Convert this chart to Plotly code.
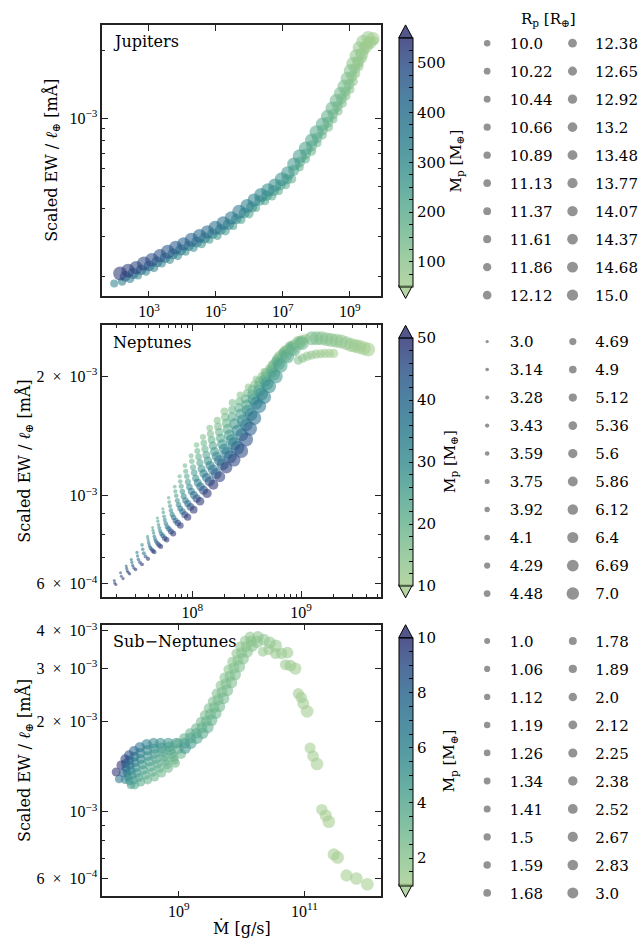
import plotly.graph_objects as go

W, H = 643, 944
SERIF = "DejaVu Serif"
TICKFONT = "Liberation Serif"

# ---------------- legend radii (R_p levels) ----------------
jup_rp_levels = [10.0, 10.22, 10.44, 10.66, 10.89, 11.13, 11.37, 11.61, 11.86, 12.12,
                 12.38, 12.65, 12.92, 13.2, 13.48, 13.77, 14.07, 14.37, 14.68, 15.0]
nep_rp_levels = [3.0, 3.14, 3.28, 3.43, 3.59, 3.75, 3.92, 4.1, 4.29, 4.48,
                 4.69, 4.9, 5.12, 5.36, 5.6, 5.86, 6.12, 6.4, 6.69, 7.0]
sub_rp_levels = [1.0, 1.06, 1.12, 1.19, 1.26, 1.34, 1.41, 1.5, 1.59, 1.68,
                 1.78, 1.89, 2.0, 2.12, 2.25, 2.38, 2.52, 2.67, 2.83, 3.0]

# ---------------- Jupiters: groups (lower, middle, upper band, top blob) ----------------
jup_log_mdot = [
    [1.963, 2.200, 2.437, 2.674, 2.911, 3.148, 3.385, 3.622, 3.859, 4.096, 4.333,
     4.570, 4.807, 5.044, 5.281, 5.518, 5.755, 5.992, 6.200, 6.467, 6.675,
     6.882, 7.089, 7.267, 7.504, 7.682, 7.859, 8.037, 8.185, 8.363, 8.511,
     8.659, 8.778, 8.897, 9.015, 9.104, 9.193, 9.282, 9.371, 9.459, 9.578, 9.726],
    [2.290, 2.527, 2.764, 3.001, 3.238, 3.475, 3.712, 3.949, 4.186, 4.423,
     4.660, 4.897, 5.134, 5.371, 5.608, 5.845, 6.067, 6.304, 6.511, 6.719,
     6.926, 7.118, 7.326, 7.504, 7.682, 7.859, 8.022, 8.185, 8.348, 8.496,
     8.630, 8.749, 8.867, 8.971, 9.060, 9.149, 9.238, 9.326, 9.430, 9.563],
    [2.141, 2.378, 2.615, 2.852, 3.089, 3.326, 3.563, 3.800, 4.037, 4.274,
     4.511, 4.748, 4.985, 5.222, 5.459, 5.696, 5.933, 6.141, 6.348, 6.556,
     6.763, 6.970, 7.148, 7.326, 7.504, 7.681, 7.859, 8.007, 8.185, 8.333,
     8.481, 8.600, 8.719, 8.837, 8.926, 9.015, 9.104, 9.193, 9.281, 9.400, 9.548],
    [9.252, 9.370, 9.489, 9.607, 9.696],
]
jup_log_ew = [
    [-3.728, -3.719, -3.706, -3.693, -3.675, -3.658, -3.640, -3.623, -3.605, -3.588, -3.570,
     -3.553, -3.535, -3.517, -3.496, -3.474, -3.447, -3.421, -3.395, -3.364, -3.342,
     -3.320, -3.294, -3.267, -3.215, -3.180, -3.145, -3.109, -3.074, -3.039, -3.004,
     -2.969, -2.934, -2.903, -2.873, -2.838, -2.803, -2.772, -2.737, -2.702, -2.675, -2.658],
    [-3.696, -3.683, -3.667, -3.650, -3.632, -3.615, -3.597, -3.580, -3.562, -3.545,
     -3.527, -3.509, -3.490, -3.468, -3.444, -3.417, -3.391, -3.362, -3.340, -3.318,
     -3.294, -3.268, -3.229, -3.192, -3.157, -3.121, -3.086, -3.051, -3.016, -2.981,
     -2.946, -2.913, -2.882, -2.850, -2.815, -2.782, -2.749, -2.714, -2.683, -2.661],
    [-3.684, -3.671, -3.658, -3.640, -3.623, -3.605, -3.588, -3.570, -3.553, -3.535,
     -3.518, -3.500, -3.482, -3.461, -3.439, -3.412, -3.386, -3.360, -3.338, -3.316,
     -3.294, -3.268, -3.241, -3.202, -3.167, -3.132, -3.096, -3.061, -3.026, -2.991,
     -2.956, -2.921, -2.890, -2.860, -2.825, -2.790, -2.759, -2.724, -2.689, -2.662, -2.645],
    [-2.754, -2.719, -2.684, -2.667, -2.649],
]
jup_mass = [
    [330, 345, 340, 330, 325, 318, 312, 305, 298, 290, 284,
     275, 268, 260, 254, 245, 236, 227, 218, 210, 203,
     195, 188, 181, 173, 165, 158, 151, 143, 136, 129,
     122, 115, 108, 101, 95, 88, 82, 76, 70, 64, 58],
    [430, 420, 410, 400, 392, 382, 372, 364, 354, 345,
     336, 326, 316, 306, 296, 285, 274, 262, 252, 242,
     232, 222, 212, 202, 192, 182, 172, 162, 153, 144,
     134, 125, 116, 107, 99, 91, 84, 77, 70, 63],
    [540, 530, 515, 505, 495, 485, 470, 460, 450, 440,
     425, 415, 400, 390, 375, 360, 345, 330, 318, 305,
     292, 280, 268, 255, 242, 230, 218, 205, 194, 182,
     170, 158, 146, 135, 124, 113, 103, 94, 85, 76, 68],
    [80, 72, 64, 58, 54],
]
jup_rp = [
    [10.0, 10.44, 10.89, 10.0, 10.44, 10.89, 10.0, 10.44, 10.89, 10.0, 10.44,
     10.89, 10.0, 10.44, 10.89, 10.0, 10.44, 10.89, 10.0, 10.44, 10.89,
     10.0, 10.44, 10.89, 10.0, 10.44, 10.89, 10.0, 10.44, 10.89, 10.0,
     10.44, 10.89, 10.0, 10.44, 10.89, 10.0, 10.44, 10.89, 10.0, 10.44, 10.89],
    [12.38, 12.65, 12.12, 12.38, 12.65, 12.12, 12.38, 12.65, 12.12, 12.38,
     12.65, 12.12, 12.38, 12.65, 12.12, 12.38, 12.65, 12.12, 12.38, 12.65,
     12.12, 12.38, 12.65, 12.12, 12.38, 12.65, 12.12, 12.38, 12.65, 12.12,
     12.38, 12.65, 12.12, 12.38, 12.65, 12.12, 12.38, 12.65, 12.12, 12.38],
    [15.0, 14.68, 14.37, 15.0, 14.68, 14.37, 15.0, 14.68, 14.37, 15.0,
     14.68, 14.37, 15.0, 14.68, 14.37, 15.0, 14.68, 14.37, 15.0, 14.68,
     14.37, 15.0, 14.68, 14.37, 15.0, 14.68, 14.37, 15.0, 14.68, 14.37,
     15.0, 14.68, 14.37, 15.0, 14.68, 14.37, 15.0, 14.68, 14.37, 15.0, 14.68],
    [13.2, 13.48, 13.77, 14.07, 14.37],
]

# ---------------- Neptunes: arcs listed head -> tail ----------------
nep_log_mdot = [
    [7.298, 7.287, 7.283],
    [7.364, 7.348, 7.341],
    [7.424, 7.411, 7.402, 7.397, 7.393],
    [7.479, 7.463, 7.452, 7.445, 7.440],
    [7.538, 7.519, 7.505, 7.497, 7.492],
    [7.593, 7.571, 7.555, 7.545, 7.539],
    [7.651, 7.637, 7.626, 7.615, 7.607, 7.601, 7.597, 7.592, 7.589],
    [7.710, 7.694, 7.680, 7.667, 7.658, 7.651, 7.645, 7.639, 7.636],
    [7.765, 7.746, 7.730, 7.716, 7.705, 7.697, 7.690, 7.684, 7.680],
    [7.825, 7.804, 7.786, 7.770, 7.757, 7.748, 7.741, 7.734, 7.730],
    [7.891, 7.867, 7.847, 7.829, 7.815, 7.804, 7.796, 7.788, 7.783],
    [7.958, 7.932, 7.910, 7.890, 7.874, 7.863, 7.853, 7.845, 7.839],
    [8.013, 7.984, 7.960, 7.938, 7.921, 7.909, 7.899, 7.890, 7.884],
    [8.072, 8.041, 8.015, 7.992, 7.974, 7.960, 7.950, 7.940, 7.933],
    [8.136, 8.104, 8.076, 8.051, 8.032, 8.018, 8.007, 7.996, 7.990],
    [8.194, 8.160, 8.131, 8.105, 8.085, 8.070, 8.058, 8.047, 8.040],
    [8.253, 8.219, 8.190, 8.164, 8.144, 8.129, 8.117, 8.106, 8.099],
    [8.314, 8.280, 8.251, 8.225, 8.205, 8.190, 8.178, 8.167, 8.160],
    [8.384, 8.350, 8.321, 8.295, 8.275, 8.260, 8.248, 8.237, 8.230],
    [8.450, 8.416, 8.387, 8.361, 8.341, 8.326, 8.314, 8.303, 8.296],
    [8.495, 8.456, 8.418, 8.392, 8.367, 8.367, 8.368],
    [8.531, 8.497, 8.463, 8.445, 8.427, 8.433, 8.440],
    [8.570, 8.540, 8.511, 8.500, 8.489, 8.502, 8.516],
    [8.615, 8.589, 8.563, 8.557, 8.552, 8.570, 8.588],
    [8.661, 8.638, 8.616, 8.616, 8.616, 8.638, 8.661],
    [8.706, 8.687, 8.668, 8.673, 8.678, 8.705, 8.733],
    [8.767, 8.748, 8.729, 8.734, 8.739, 8.766, 8.794],
    [8.812, 8.795, 8.778, 8.787, 8.796, 8.826, 8.857],
    [8.872, 8.855, 8.838, 8.847, 8.856, 8.886, 8.917],
    [8.932, 8.916, 8.900, 8.911, 8.922, 8.954, 8.986],
    [9.008, 8.990, 8.972, 9.008, 9.044],
    [9.099, 9.144, 9.189, 9.235, 9.280, 9.325, 9.370, 9.415, 9.461, 9.498, 9.536, 9.577, 9.617],
    [8.975, 9.015, 9.056, 9.096, 9.137, 9.178, 9.219, 9.260, 9.300],
]
nep_log_ew = [
    [-3.224, -3.220, -3.214],
    [-3.209, -3.203, -3.194],
    [-3.197, -3.193, -3.189, -3.183, -3.177],
    [-3.186, -3.182, -3.176, -3.168, -3.161],
    [-3.173, -3.168, -3.161, -3.152, -3.143],
    [-3.159, -3.153, -3.145, -3.135, -3.124],
    [-3.142, -3.139, -3.135, -3.131, -3.126, -3.120, -3.114, -3.108, -3.102],
    [-3.128, -3.124, -3.120, -3.115, -3.109, -3.102, -3.094, -3.087, -3.080],
    [-3.111, -3.107, -3.101, -3.096, -3.089, -3.081, -3.073, -3.064, -3.056],
    [-3.095, -3.090, -3.084, -3.078, -3.070, -3.061, -3.052, -3.042, -3.033],
    [-3.075, -3.069, -3.063, -3.055, -3.047, -3.037, -3.026, -3.016, -3.005],
    [-3.054, -3.048, -3.040, -3.032, -3.023, -3.012, -3.000, -2.989, -2.977],
    [-3.035, -3.028, -3.020, -3.012, -3.001, -2.989, -2.976, -2.964, -2.951],
    [-3.014, -3.007, -2.998, -2.989, -2.978, -2.965, -2.951, -2.938, -2.924],
    [-2.994, -2.986, -2.977, -2.967, -2.956, -2.942, -2.928, -2.913, -2.899],
    [-2.972, -2.964, -2.954, -2.944, -2.932, -2.917, -2.902, -2.887, -2.872],
    [-2.952, -2.944, -2.934, -2.924, -2.912, -2.897, -2.882, -2.867, -2.852],
    [-2.929, -2.921, -2.911, -2.901, -2.889, -2.874, -2.859, -2.844, -2.829],
    [-2.910, -2.902, -2.892, -2.882, -2.870, -2.855, -2.840, -2.825, -2.810],
    [-2.887, -2.879, -2.869, -2.859, -2.847, -2.832, -2.817, -2.802, -2.787],
    [-2.858, -2.846, -2.835, -2.818, -2.801, -2.783, -2.765],
    [-2.831, -2.821, -2.810, -2.794, -2.778, -2.762, -2.746],
    [-2.804, -2.795, -2.785, -2.771, -2.756, -2.741, -2.726],
    [-2.774, -2.766, -2.757, -2.745, -2.732, -2.719, -2.706],
    [-2.751, -2.743, -2.735, -2.723, -2.711, -2.698, -2.686],
    [-2.724, -2.717, -2.710, -2.700, -2.690, -2.679, -2.669],
    [-2.699, -2.693, -2.687, -2.678, -2.669, -2.660, -2.651],
    [-2.672, -2.667, -2.662, -2.655, -2.647, -2.640, -2.632],
    [-2.649, -2.646, -2.642, -2.637, -2.632, -2.627, -2.621],
    [-2.631, -2.629, -2.626, -2.623, -2.619, -2.615, -2.611],
    [-2.615, -2.614, -2.612, -2.608, -2.603],
    [-2.603, -2.603, -2.603, -2.605, -2.607, -2.609, -2.611, -2.615, -2.620, -2.622, -2.624, -2.628, -2.631],
    [-2.658, -2.653, -2.648, -2.645, -2.643, -2.642, -2.641, -2.641, -2.641],
]
nep_mass = [
    [50, 47, 45],
    [50, 47, 44],
    [50, 47, 44, 42, 40],
    [50, 46, 42, 39, 36],
    [50, 45, 40, 36, 33],
    [50, 44, 38, 34, 30],
    [50, 46.1, 42.5, 39.1, 36.1, 33.2, 30.6, 28.2, 26],
    [50, 45.9, 42.0, 38.6, 35.4, 32.4, 29.7, 27.3, 25],
    [50, 45.4, 41.2, 37.4, 33.9, 30.8, 27.9, 25.3, 23],
    [50, 45.1, 40.7, 36.8, 33.2, 29.9, 27.0, 24.4, 22],
    [50, 44.9, 40.3, 36.1, 32.4, 29.1, 26.1, 23.4, 21],
    [50, 44.6, 39.8, 35.5, 31.6, 28.2, 25.1, 22.4, 20],
    [50, 44.3, 39.3, 34.8, 30.8, 27.3, 24.2, 21.4, 19],
    [50, 44.0, 38.7, 34.1, 30.0, 26.4, 23.2, 20.4, 18],
    [50, 43.7, 38.2, 33.4, 29.2, 25.5, 22.2, 19.4, 17],
    [50, 43.4, 37.6, 32.6, 28.3, 24.5, 21.3, 18.5, 16],
    [48, 41.8, 36.5, 31.8, 27.7, 24.2, 21.1, 18.4, 16],
    [48, 41.5, 35.9, 31.0, 26.8, 23.2, 20.1, 17.3, 15],
    [47, 40.7, 35.3, 30.6, 26.6, 23.0, 20.0, 17.3, 15],
    [46, 39.6, 34.2, 29.5, 25.4, 21.9, 18.9, 16.3, 14],
    [45, 38, 32, 27, 22, 19, 16],
    [42, 36, 30, 25, 21, 18, 15],
    [39, 33, 28, 24, 20, 17, 14],
    [36, 31, 26, 22, 18, 15, 13],
    [33, 28, 24, 20, 17, 14, 12],
    [30, 26, 22, 19, 16, 14, 12],
    [27, 23, 20, 17, 15, 13, 11],
    [25, 22, 19, 16, 14, 12, 11],
    [23, 20, 17, 15, 13, 11, 10],
    [21, 18, 16, 14, 12, 11, 10],
    [19, 16, 14, 12, 10],
    [17, 16.2, 15.5, 14.7, 14, 13.5, 13, 12.5, 12, 11.5, 11, 10.5, 10],
    [15, 14, 13, 12.5, 12, 11.5, 11, 10.5, 10],
]
nep_rp = [
    [3.0, 3.0, 3.0],
    [3.14, 3.0, 3.0],
    [3.28, 3.14, 3.14, 3.0, 3.0],
    [3.43, 3.28, 3.28, 3.14, 3.14],
    [3.59, 3.43, 3.43, 3.28, 3.28],
    [3.75, 3.59, 3.59, 3.43, 3.43],
    [3.92, 3.92, 3.75, 3.59, 3.43, 3.28, 3.14, 3.0, 3.0],
    [4.1, 4.1, 3.92, 3.75, 3.59, 3.43, 3.28, 3.14, 3.0],
    [4.29, 4.29, 4.1, 3.92, 3.75, 3.59, 3.43, 3.28, 3.14],
    [4.48, 4.48, 4.29, 4.1, 3.92, 3.75, 3.59, 3.43, 3.28],
    [4.69, 4.69, 4.48, 4.29, 4.1, 3.92, 3.75, 3.59, 3.43],
    [4.9, 4.9, 4.69, 4.48, 4.29, 4.1, 3.92, 3.75, 3.59],
    [5.12, 5.12, 4.9, 4.69, 4.48, 4.29, 4.1, 3.92, 3.75],
    [5.36, 5.36, 5.12, 4.9, 4.69, 4.48, 4.29, 4.1, 3.92],
    [5.6, 5.6, 5.36, 5.12, 4.9, 4.69, 4.48, 4.29, 4.1],
    [5.86, 5.86, 5.6, 5.36, 5.12, 4.9, 4.69, 4.48, 4.29],
    [6.12, 6.12, 5.86, 5.6, 5.36, 5.12, 4.9, 4.69, 4.48],
    [6.4, 6.4, 6.12, 5.86, 5.6, 5.36, 5.12, 4.9, 4.69],
    [6.69, 6.69, 6.4, 6.12, 5.86, 5.6, 5.36, 5.12, 4.9],
    [7.0, 7.0, 6.69, 6.4, 6.12, 5.86, 5.6, 5.36, 5.12],
    [7.0, 6.69, 6.4, 6.12, 5.6, 5.12, 4.9],
    [7.0, 6.69, 6.4, 6.12, 5.6, 5.12, 4.9],
    [7.0, 6.69, 6.4, 6.12, 5.6, 5.12, 4.9],
    [7.0, 6.69, 6.4, 6.12, 5.6, 5.12, 4.9],
    [7.0, 6.69, 6.4, 6.12, 5.6, 5.12, 4.9],
    [7.0, 6.69, 6.4, 6.12, 5.6, 5.12, 4.9],
    [7.0, 6.69, 6.4, 6.12, 5.6, 5.12, 4.9],
    [7.0, 6.69, 6.4, 6.12, 5.6, 5.12, 4.9],
    [7.0, 6.69, 6.4, 6.12, 5.6, 5.12, 4.9],
    [7.0, 6.69, 6.4, 6.12, 5.6, 5.12, 4.9],
    [7.0, 6.69, 6.4, 6.12, 5.6],
    [7.0, 7.0, 7.0, 7.0, 7.0, 7.0, 7.0, 7.0, 7.0, 7.0, 7.0, 7.0, 7.0],
    [5.6, 5.6, 5.6, 5.6, 5.6, 5.6, 5.6, 5.6, 5.6],
]

# ---------------- Sub-Neptunes: groups in drawing order ----------------
sub_log_mdot = [
    [8.049, 8.002],
    [8.143, 8.111, 8.080],
    [8.237, 8.214, 8.190, 8.174, 8.158, 8.151, 8.143],
    [8.299, 8.276, 8.252, 8.237, 8.221, 8.213, 8.205],
    [8.393, 8.362, 8.331, 8.315, 8.299, 8.292, 8.284],
    [8.503, 8.472, 8.440, 8.417, 8.393, 8.386, 8.378],
    [8.613, 8.582, 8.550, 8.527, 8.503, 8.495, 8.487],
    [8.723, 8.692, 8.660, 8.637, 8.613, 8.605, 8.597],
    [8.832, 8.809, 8.785, 8.762, 8.738, 8.723, 8.707],
    [8.942, 8.927, 8.911, 8.888, 8.864, 8.848, 8.832],
    [9.036, 8.989, 8.958],
    [8.989, 9.083, 9.177, 9.271, 9.350, 9.412, 9.475, 9.538, 9.600, 9.663, 9.726, 9.788,
     9.851, 9.914, 9.976, 10.055, 10.133],
    [9.091, 9.185, 9.279, 9.365, 9.436, 9.499, 9.561, 9.624, 9.687, 9.749, 9.812, 9.875,
     9.938, 10.000, 10.071, 10.149],
    [9.099, 9.193, 9.287, 9.381, 9.459, 9.522, 9.585, 9.647, 9.710, 9.773, 9.835, 9.898,
     9.961, 10.024, 10.086, 10.165, 10.243],
    [10.259, 10.353, 10.447, 10.541, 10.337, 10.431, 10.541, 10.635, 10.729, 10.697, 10.776,
     10.854, 10.901, 10.948, 10.980, 11.042, 11.089, 11.136, 11.199, 11.277, 11.340, 11.387,
     11.466, 11.528, 11.669, 11.826, 12.000],
]
sub_log_ew = [
    [-2.891, -2.868],
    [-2.894, -2.871, -2.845],
    [-2.911, -2.898, -2.884, -2.870, -2.855, -2.840, -2.825],
    [-2.911, -2.895, -2.878, -2.862, -2.845, -2.829, -2.812],
    [-2.901, -2.886, -2.871, -2.853, -2.835, -2.817, -2.798],
    [-2.894, -2.878, -2.861, -2.843, -2.825, -2.805, -2.785],
    [-2.884, -2.868, -2.851, -2.833, -2.815, -2.795, -2.775],
    [-2.871, -2.856, -2.841, -2.825, -2.808, -2.790, -2.772],
    [-2.855, -2.843, -2.831, -2.817, -2.802, -2.787, -2.772],
    [-2.838, -2.828, -2.818, -2.807, -2.795, -2.784, -2.772],
    [-2.808, -2.792, -2.772],
    [-2.772, -2.755, -2.739, -2.722, -2.702, -2.679, -2.656, -2.633, -2.607, -2.580, -2.554, -2.527,
     -2.501, -2.474, -2.451, -2.431, -2.418],
    [-2.772, -2.755, -2.739, -2.721, -2.699, -2.676, -2.653, -2.628, -2.602, -2.575, -2.549, -2.522,
     -2.496, -2.471, -2.450, -2.433],
    [-2.788, -2.772, -2.755, -2.739, -2.719, -2.696, -2.673, -2.650, -2.623, -2.597, -2.570, -2.544,
     -2.517, -2.491, -2.468, -2.448, -2.435],
    [-2.418, -2.428, -2.438, -2.448, -2.468, -2.461, -2.474, -2.474, -2.471, -2.511, -2.514,
     -2.524, -2.607, -2.620, -2.640, -2.666, -2.788, -2.815, -2.841, -2.993, -3.013, -3.033,
     -3.142, -3.152, -3.212, -3.222, -3.241],
]
sub_mass = [
    [7, 10],
    [6, 8, 10],
    [4.5, 5.0, 5.5, 6.5, 7.5, 8.5, 9.5],
    [4.0, 4.6, 5.2, 6.1, 7.0, 8.0, 9.0],
    [3.7, 4.2, 4.8, 5.5, 6.3, 7.1, 8.0],
    [3.4, 3.8, 4.3, 4.9, 5.6, 6.3, 7.0],
    [3.1, 3.5, 3.9, 4.4, 5.0, 5.6, 6.3],
    [2.9, 3.2, 3.6, 4.1, 4.6, 5.1, 5.7],
    [2.8, 3.1, 3.4, 3.8, 4.2, 4.7, 5.2],
    [2.7, 2.9, 3.2, 3.5, 3.9, 4.3, 4.8],
    [3.0, 3.6, 4.4],
    [3.8, 3.5, 3.2, 3.0, 2.8, 2.6, 2.5, 2.4, 2.3, 2.2, 2.1, 2.0, 1.95, 1.9, 1.85, 1.8, 1.75],
    [4.3, 3.9, 3.6, 3.3, 3.1, 2.9, 2.8, 2.6, 2.5, 2.4, 2.3, 2.2, 2.1, 2.0, 1.95, 1.9],
    [5.0, 4.5, 4.1, 3.8, 3.5, 3.3, 3.1, 2.9, 2.8, 2.7, 2.6, 2.5, 2.4, 2.3, 2.2, 2.1, 2.0],
    [1.9, 1.8, 1.7, 1.6, 1.6, 1.55, 1.5, 1.45, 1.4, 1.4, 1.35,
     1.3, 1.25, 1.22, 1.2, 1.18, 1.12, 1.1, 1.08, 1.06, 1.05, 1.04,
     1.03, 1.02, 1.01, 1.0, 1.0],
]
sub_rp = [
    [1.41, 1.59],
    [1.34, 1.5, 1.68],
    [1.41, 1.41, 1.5, 1.5, 1.59, 1.68, 1.78],
    [1.5, 1.5, 1.59, 1.59, 1.68, 1.78, 1.89],
    [1.59, 1.59, 1.68, 1.68, 1.78, 1.89, 2.0],
    [1.59, 1.59, 1.68, 1.78, 1.89, 2.0, 2.12],
    [1.68, 1.68, 1.78, 1.78, 1.89, 2.0, 2.12],
    [1.68, 1.68, 1.78, 1.89, 2.0, 2.12, 2.25],
    [1.78, 1.78, 1.89, 1.89, 2.0, 2.12, 2.25],
    [1.78, 1.78, 1.89, 2.0, 2.12, 2.25, 2.38],
    [1.89, 2.0, 2.38],
    [1.89, 1.89, 2.0, 1.89, 2.0, 1.89, 2.0, 1.89, 2.0, 1.89, 2.0, 1.89, 2.0, 1.89, 2.0, 2.12, 2.12],
    [2.25, 2.38, 2.25, 2.38, 2.25, 2.38, 2.25, 2.38, 2.25, 2.38, 2.25, 2.38, 2.25, 2.38, 2.25, 2.38],
    [2.67, 2.52, 2.67, 2.52, 2.67, 2.52, 2.67, 2.52, 2.67, 2.52, 2.67, 2.52, 2.67, 2.52, 2.67, 2.83, 2.83],
    [2.52, 2.67, 2.83, 3.0, 2.0, 2.25, 2.38, 2.52, 2.67, 2.38, 2.67,
     2.83, 2.38, 2.52, 2.67, 3.0, 2.38, 2.67, 3.0, 2.52, 2.83, 3.0,
     2.83, 3.0, 2.83, 3.0, 3.0],
]

# ---------------- styles ----------------
CREST = [(0.00, (165, 205, 144)), (0.12, (136, 194, 142)), (0.25, (103, 178, 142)),
         (0.38, (74, 159, 142)), (0.50, (54, 139, 142)), (0.62, (43, 122, 141)),
         (0.75, (39, 103, 140)), (0.88, (43, 79, 134)), (1.00, (44, 49, 114))]
ALPHA = 0.82


def rgba(c):
    return "rgba(%d,%d,%d,%.2f)" % (c[0], c[1], c[2], ALPHA)


COLORSCALE = [[p, rgba(c)] for p, c in CREST]


def flat(nested, reverse=False):
    out = []
    for grp in nested:
        out.extend(list(grp)[::-1] if reverse else list(grp))
    return out


YT = "Scaled EW / <i>ℓ</i><sub>⊕</sub> [mÅ]"
SP = "\u2002"

panels = [
    dict(title="Jupiters",
         lx=flat(jup_log_mdot), ly=flat(jup_log_ew), m=flat(jup_mass), r=flat(jup_rp),
         size=lambda r: 8.0 + 1.2 * (r - 10.0),
         leg_size=lambda r: 6.5 + 0.95 * (r - 10.0), levels=jup_rp_levels,
         top=20, bottom=293, xr=[1.61, 9.93], yr=[-3.785, -2.588],
         xt=[1e3, 1e5, 1e7, 1e9],
         xtt=["10<sup>3</sup>", "10<sup>5</sup>", "10<sup>7</sup>", "10<sup>9</sup>"],
         xminor=[],
         yt=[1e-3], ytt=["10<sup>−3</sup>"],
         yminor=[2e-4, 3e-4, 4e-4, 5e-4, 6e-4, 7e-4, 8e-4, 9e-4, 2e-3],
         cmin=50, cmax=550, cmajor=[100, 200, 300, 400, 500], cstep=25,
         cb_top=33, cb_bot=282, cb_label_x=464, leg_y=43, ylab_x=52),
    dict(title="Neptunes",
         lx=flat(nep_log_mdot, True), ly=flat(nep_log_ew, True),
         m=flat(nep_mass, True), r=flat(nep_rp, True),
         size=lambda r: 3.0 + 11.0 * ((r - 3.0) / 4.0) ** 1.3,
         leg_size=lambda r: 3.3 + 2.3 * (r - 3.0), levels=nep_rp_levels,
         top=322, bottom=595, xr=[7.174, 9.735], yr=[-3.255, -2.570],
         xt=[1e8, 1e9], xtt=["10<sup>8</sup>", "10<sup>9</sup>"],
         xminor=[2e7, 3e7, 4e7, 5e7, 6e7, 7e7, 8e7, 9e7, 2e8, 3e8, 4e8, 5e8, 6e8, 7e8, 8e8, 9e8,
                 2e9, 3e9, 4e9, 5e9],
         yt=[6e-4, 1e-3, 2e-3],
         ytt=["6" + SP + "×" + SP + "10<sup>−4</sup>", "10<sup>−3</sup>",
              "2" + SP + "×" + SP + "10<sup>−3</sup>"],
         yminor=[7e-4, 8e-4, 9e-4],
         cmin=10, cmax=50, cmajor=[10, 20, 30, 40, 50], cstep=2,
         cb_top=335, cb_bot=583, cb_label_x=457, leg_y=343, ylab_x=25),
    dict(title="Sub−Neptunes",
         lx=flat(sub_log_mdot), ly=flat(sub_log_ew), m=flat(sub_mass), r=flat(sub_rp),
         size=lambda r: 7.5 + 2.6 * (r - 1.0),
         leg_size=lambda r: 6.0 + 2.5 * (r - 1.0), levels=sub_rp_levels,
         top=623, bottom=896, xr=[7.782, 12.218], yr=[-3.281, -2.378],
         xt=[1e9, 1e11], xtt=["10<sup>9</sup>", "10<sup>11</sup>"],
         xminor=[],
         yt=[6e-4, 1e-3, 2e-3, 3e-3, 4e-3],
         ytt=["6" + SP + "×" + SP + "10<sup>−4</sup>", "10<sup>−3</sup>",
              "2" + SP + "×" + SP + "10<sup>−3</sup>",
              "3" + SP + "×" + SP + "10<sup>−3</sup>",
              "4" + SP + "×" + SP + "10<sup>−3</sup>"],
         yminor=[7e-4, 8e-4, 9e-4],
         cmin=1, cmax=10, cmajor=[2, 4, 6, 8, 10], cstep=0.5,
         cb_top=636, cb_bot=884, cb_label_x=457, leg_y=644, ylab_x=26),
]

AX_L, AX_R = 104, 387
CB_L, CB_W = 405, 14
TRI_H = 13
LEG_COL_X = [490, 577]   # marker centres of the two legend columns

fig = go.Figure()
shapes, annotations = [], []
layout = {}

for k, p in enumerate(panels):
    i = k + 1
    xa = "x" if i == 1 else "x%d" % i
    ya = "y" if i == 1 else "y%d" % i
    n = int(round((p["cmax"] - p["cmin"]) / p["cstep"]))
    cvals = [p["cmin"] + j * p["cstep"] for j in range(n + 1)]
    ctext = [("%g" % v) if any(abs(v - c) < 1e-9 for c in p["cmajor"]) else "" for v in cvals]
    cb_len = p["cb_bot"] - p["cb_top"]
    fig.add_trace(go.Scatter(
        x=[10 ** v for v in p["lx"]], y=[10 ** v for v in p["ly"]],
        mode="markers", xaxis=xa, yaxis=ya, showlegend=False, hoverinfo="skip",
        marker=dict(size=[p["size"](r) for r in p["r"]], color=p["m"],
                    colorscale=COLORSCALE, cmin=p["cmin"], cmax=p["cmax"],
                    line=dict(width=0),
                    colorbar=dict(x=CB_L / W, xanchor="left", xpad=0,
                                  y=1 - p["cb_top"] / H, yanchor="top", ypad=0,
                                  len=cb_len, lenmode="pixels",
                                  thickness=CB_W, thicknessmode="pixels",
                                  outlinewidth=1, outlinecolor="black",
                                  tickvals=cvals, ticktext=ctext, ticks="inside",
                                  ticklen=4, tickcolor="black", tickwidth=1,
                                  tickfont=dict(family=SERIF, size=15, color="black"))),
    ))
    cx0, cx1 = CB_L / W, (CB_L + CB_W) / W
    cxm = (CB_L + CB_W / 2) / W
    yt0 = 1 - p["cb_top"] / H
    ytip = 1 - (p["cb_top"] - TRI_H) / H
    yb0 = 1 - p["cb_bot"] / H
    ybtip = 1 - (p["cb_bot"] + TRI_H) / H
    shapes.append(dict(type="path", xref="paper", yref="paper",
                       path="M %f,%f L %f,%f L %f,%f Z" % (cx0, yt0, cxm, ytip, cx1, yt0),
                       fillcolor=rgba(CREST[-1][1]), line=dict(color="black", width=1)))
    shapes.append(dict(type="path", xref="paper", yref="paper",
                       path="M %f,%f L %f,%f L %f,%f Z" % (cx0, yb0, cxm, ybtip, cx1, yb0),
                       fillcolor=rgba(CREST[0][1]), line=dict(color="black", width=1)))
    axcommon = dict(type="log", showgrid=False, zeroline=False, showline=True,
                    linecolor="#222222", linewidth=1.5, mirror="allticks",
                    ticks="inside", ticklen=6, tickwidth=1, tickcolor="#222222",
                    tickfont=dict(family=TICKFONT, size=16, color="black"))
    layout["xaxis" if i == 1 else "xaxis%d" % i] = dict(
        axcommon, domain=[AX_L / W, AX_R / W], anchor=ya, range=p["xr"],
        tickmode="array", tickvals=p["xt"], ticktext=p["xtt"],
        minor=dict(tickvals=p["xminor"], ticks="inside", ticklen=3,
                   tickcolor="#222222", showgrid=False))
    layout["yaxis" if i == 1 else "yaxis%d" % i] = dict(
        axcommon, domain=[1 - p["bottom"] / H, 1 - p["top"] / H], anchor=xa,
        range=p["yr"], tickmode="array", tickvals=p["yt"], ticktext=p["ytt"],
        minor=dict(tickvals=p["yminor"], ticks="inside", ticklen=3,
                   tickcolor="#222222", showgrid=False))
    annotations.append(dict(text=YT, xref="paper", yref="paper",
                            x=p["ylab_x"] / W, xanchor="center",
                            y=1 - (p["top"] + p["bottom"]) / 2 / H, yanchor="middle",
                            textangle=-90, showarrow=False,
                            font=dict(family=SERIF, size=16, color="black")))
    annotations.append(dict(text=p["title"], xref="paper", yref="paper",
                            x=113 / W, xanchor="left",
                            y=1 - (p["top"] + 17) / H, yanchor="middle", showarrow=False,
                            font=dict(family=SERIF, size=16, color="black")))
    annotations.append(dict(text="M<sub>p</sub> [M<sub>⊕</sub>]", xref="paper", yref="paper",
                            x=p["cb_label_x"] / W, xanchor="center",
                            y=1 - (p["top"] + p["bottom"]) / 2 / H, yanchor="middle",
                            textangle=-90, showarrow=False,
                            font=dict(family=SERIF, size=15, color="black")))
    for c in range(2):
        lname = "legend%d" % (2 * k + c + 1)
        lname = "legend" if lname == "legend1" else lname
        for j in range(10):
            rv = p["levels"][10 * c + j]
            fig.add_trace(go.Scatter(
                x=[None], y=[None], mode="markers", xaxis=xa, yaxis=ya,
                name=str(rv), legend=lname, legendgroup="%s_%d" % (lname, j),
                marker=dict(size=p["leg_size"](rv), color="rgba(128,128,128,0.85)",
                            line=dict(width=0)),
                showlegend=True))
        layout[lname] = dict(x=(LEG_COL_X[c] - 18) / W, xanchor="left",
                             y=1 - (p["leg_y"] - 21) / H, yanchor="top",
                             bgcolor="rgba(0,0,0,0)", borderwidth=0,
                             traceorder="grouped", tracegroupgap=5.5,
                             itemsizing="trace", itemwidth=35,
                             font=dict(family=SERIF, size=15, color="black"))

annotations.append(dict(text="R<sub>p</sub> [R<sub>⊕</sub>]", xref="paper", yref="paper",
                        x=557 / W, xanchor="center", y=1 - 15 / H, yanchor="middle",
                        showarrow=False, font=dict(family=SERIF, size=15, color="black")))
annotations.append(dict(text="M\u0307 [g/s]", xref="paper", yref="paper",
                        x=(AX_L + AX_R) / 2 / W, xanchor="center", y=1 - 928 / H,
                        yanchor="middle", showarrow=False,
                        font=dict(family=SERIF, size=16, color="black")))

fig.update_layout(width=W, height=H, margin=dict(l=0, r=0, t=0, b=0),
                  paper_bgcolor="white", plot_bgcolor="white",
                  shapes=shapes, annotations=annotations, **layout)
fig.write_html("out.html")
